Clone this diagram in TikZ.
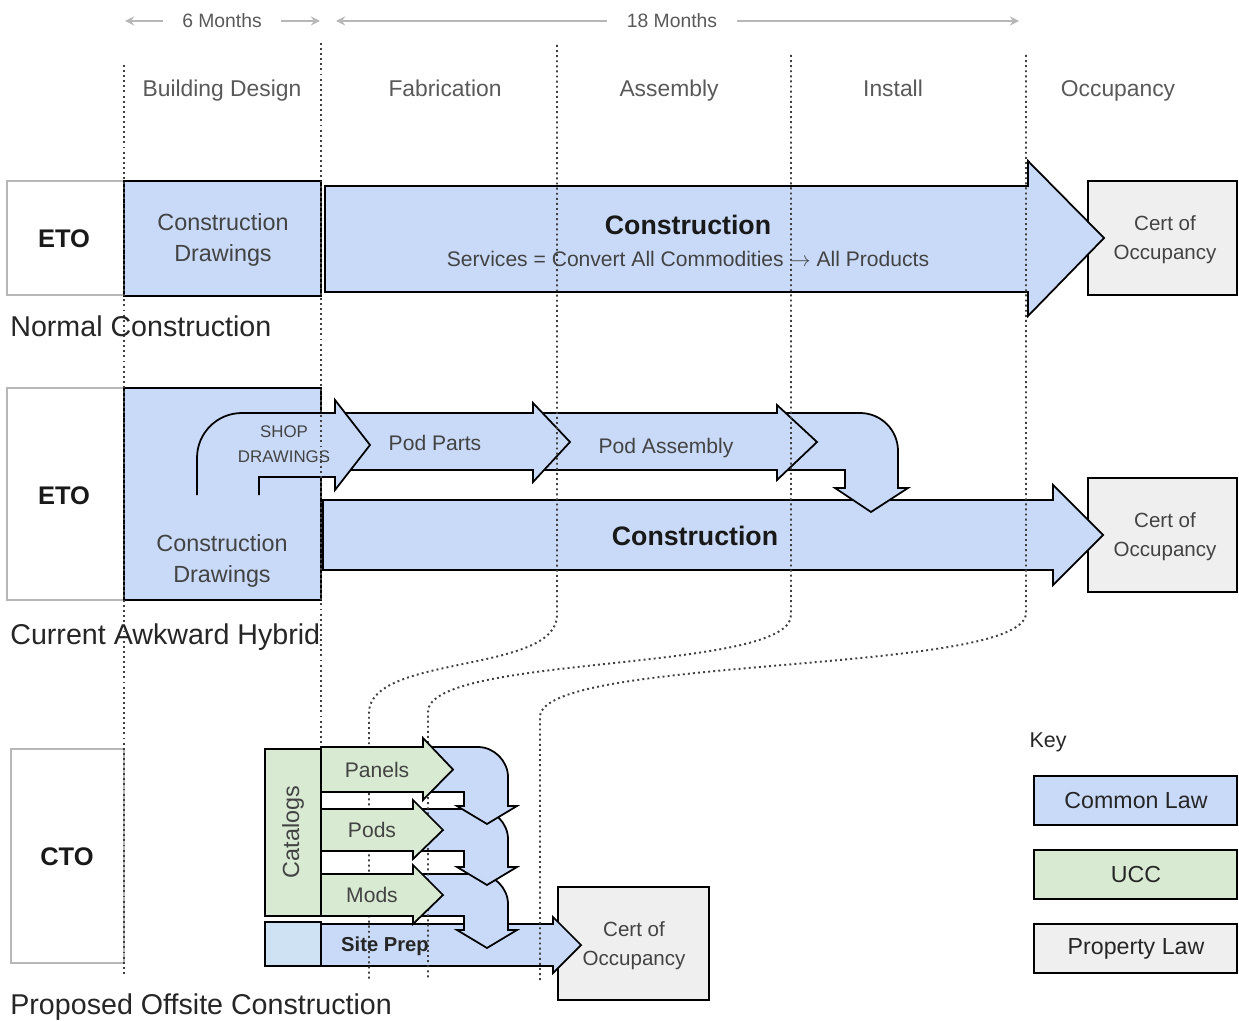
\documentclass[tikz,border=0pt]{standalone}
\usepackage{fontspec}
\setmainfont{Liberation Sans}
\usetikzlibrary{arrows.meta}

\definecolor{lawblue}{HTML}{C9DAF8}
\definecolor{uccgreen}{HTML}{D9EAD3}
\definecolor{propgray}{HTML}{EFEFEF}
\definecolor{prepblue}{HTML}{CFE2F3}
\definecolor{inkgray}{HTML}{434343}
\definecolor{headgray}{HTML}{595959}
\definecolor{spangray}{HTML}{B7B7B7}

\begin{document}
\begin{tikzpicture}[x=0.02cm, y=-0.02cm, >=stealth,
    common/.style={draw=black, line width=1pt, fill=lawblue},
    ucc/.style={draw=black, line width=1pt, fill=uccgreen},
    property/.style={draw=black, line width=1pt, fill=propgray},
    kindbox/.style={draw=spangray, line width=1pt, fill=white},
    phaseline/.style={draw=black!75, line width=1.1pt, dash pattern=on 1.1pt off 1.8pt},
    span/.style={->, draw=spangray, line width=1.3pt},
    spantxt/.style={text=headgray, inner xsep=11pt, font=\fontsize{11}{13}\selectfont},
    phasetxt/.style={anchor=base, text=headgray, font=\fontsize{13}{15}\selectfont},
    rowtxt/.style={anchor=base west, inner sep=0pt, text=black!85, font=\fontsize{16.3}{19}\selectfont},
    tag/.style={text=black!90, font=\bfseries\fontsize{14.5}{17}\selectfont},
    boxtxt/.style={text=inkgray, align=center, font=\fontsize{13.3}{18}\selectfont},
    bigtxt/.style={text=black!90, font=\bfseries\fontsize{15.2}{18}\selectfont},
    flowtxt/.style={text=inkgray, font=\fontsize{12}{14}\selectfont},
    certtxt/.style={text=inkgray, align=center, font=\fontsize{11.7}{16.4}\selectfont},
    shoptxt/.style={text=inkgray, align=center, font=\fontsize{9.6}{14}\selectfont},
    keytxt/.style={text=black!85, font=\fontsize{13.2}{15}\selectfont}]
    \useasboundingbox (0,0) rectangle (1239,1020);

    % time spans
    \node[spantxt] (six) at (222,21) {6 Months};
    \node[spantxt] (eighteen) at (672,21) {18 Months};
    \coordinate (sixL) at (125,21);
    \coordinate (sixR) at (320,21);
    \coordinate (eighteenL) at (336,21);
    \coordinate (eighteenR) at (1019,21);
    \draw[span] (six.west) -- (sixL);
    \draw[span] (six.east) -- (sixR);
    \draw[span] (eighteen.west) -- (eighteenL);
    \draw[span] (eighteen.east) -- (eighteenR);

    % phases
    \node[phasetxt] (design) at (222,97) {Building Design};
    \node[phasetxt] (fab) at (445,97) {Fabrication};
    \node[phasetxt] (assembly) at (669,97) {Assembly};
    \node[phasetxt] (install) at (893,97) {Install};
    \node[phasetxt] (occupancy) at (1118,97) {Occupancy};

    % normal construction
    \draw[kindbox] (7,181) rectangle (124,295);
    \draw[common] (124,181) rectangle (321,296);
    \draw[property] (1088,181) rectangle (1237,295);
    \draw[common] (325,186) -- (1028,186) -- (1028,161) -- (1104,238)
        -- (1028,316) -- (1028,292) -- (325,292) -- cycle;

    % current hybrid
    \draw[kindbox] (7,388) rectangle (124,600);
    \draw[common] (124,388) rectangle (321,600);
    \draw[property] (1088,478) rectangle (1237,592);
    \draw[common] (323,500) -- (1053,500) -- (1053,485) -- (1103,535)
        -- (1053,585) -- (1053,570) -- (323,570) -- cycle;
    \draw[common] (760,413) -- (860,413) .. controls (881,413) and (898,430) .. (898,451)
        -- (898,488) -- (908,488) -- (871,512) -- (835,488) -- (845,488)
        -- (845,470) -- (760,470) -- cycle;
    \draw[common] (540,413) -- (777,413) -- (777,405) -- (817,442)
        -- (777,480) -- (777,470) -- (540,470) -- cycle;
    \draw[common] (330,413) -- (533,413) -- (533,403) -- (570,442)
        -- (533,482) -- (533,470) -- (330,470) -- cycle;
    \fill[lawblue] (197,495) -- (197,458) .. controls (197,433) and (217,413) .. (242,413)
        -- (335,413) -- (335,400) -- (370,445) -- (335,490) -- (335,477)
        -- (259,477) -- (259,495) -- cycle;
    \draw[line width=1pt] (197,495) -- (197,458) .. controls (197,433) and (217,413) .. (242,413)
        -- (335,413) -- (335,400) -- (370,445) -- (335,490) -- (335,477)
        -- (259,477) -- (259,495);

    % offsite construction
    \draw[kindbox] (11,749) rectangle (124,963);
    \draw[property] (558,887) rectangle (709,1000);
    \draw[line width=1pt, fill=prepblue] (265,922) rectangle (321,966);
    \draw[common] (321,924) -- (553,924) -- (553,917) -- (581,945)
        -- (553,973) -- (553,966) -- (321,966) -- cycle;
    \foreach \t/\b/\h in {874/916/930, 809/851/867, 747/792/806}
        \draw[common] (400,\t) -- (478,\t) .. controls (494,\t) and (508,\t+14) .. (508,\t+30)
            -- (508,\h) -- (517,\h) -- (487,\h+18) -- (457,\h) -- (464,\h)
            -- (464,\b) -- (400,\b) -- cycle;

    % phase boundaries
    \draw[phaseline] (124,65) -- (124,975);
    \draw[phaseline] (321,43) -- (321,747);
    \draw[phaseline] (557,45) -- (557,615) .. controls (557,674) and (369,654) .. (369,713) -- (369,980);
    \draw[phaseline] (791,55) -- (791,615) .. controls (791,673) and (428,654) .. (428,712) -- (428,980);
    \draw[phaseline] (1026,55) -- (1026,613) .. controls (1026,675) and (540,655) .. (540,717) -- (540,980);

    % catalog items
    \foreach \t/\b/\hb/\name in {747/792/423/Panels, 809/851/413/Pods, 874/916/413/Mods}{
        \draw[ucc] (321,\t) -- (\hb,\t) -- (\hb,\t-9) -- ({\hb+30},{(\t+\b)/2})
            -- (\hb,\b+8) -- (\hb,\b) -- (321,\b) -- cycle;
        \node[flowtxt] (\name) at ({(321+\hb)/2+5},{(\t+\b)/2}) {\name};
    }
    \draw[ucc] (265,749) rectangle (321,916);

    % labels
    \node[tag] (eto1) at (64,239) {ETO};
    \node[boxtxt] (drawings1) at (223,240) {Construction\\Drawings};
    \node[bigtxt] (build1) at (688,225) {Construction};
    \node[flowtxt] (services) at (688,259) {Services = Convert All Commodities $\rightarrow$ All Products};
    \node[certtxt] (cert1) at (1165,240) {Cert of\\Occupancy};
    \node[rowtxt] (normal) at (10,336) {Normal Construction};

    \node[tag] (eto2) at (64,496) {ETO};
    \node[boxtxt] (drawings2) at (222,561) {Construction\\Drawings};
    \node[shoptxt] (shop) at (284,444) {SHOP\\DRAWINGS};
    \node[flowtxt] (podparts) at (435,443) {Pod Parts};
    \node[flowtxt] (podassembly) at (666,448) {Pod Assembly};
    \node[bigtxt] (build2) at (695,536) {Construction};
    \node[certtxt] (cert2) at (1165,537) {Cert of\\Occupancy};
    \node[rowtxt] (hybrid) at (10,644) {Current Awkward Hybrid};

    \node[tag] (cto) at (67,857) {CTO};
    \node[boxtxt, rotate=90] (catalogs) at (293,832) {Catalogs};
    \node[text=black!85, font=\bfseries\fontsize{11.5}{14}\selectfont] (siteprep) at (385,946) {Site Prep};
    \node[certtxt] (cert3) at (634,946) {Cert of\\Occupancy};
    \node[rowtxt] (offsite) at (10,1014) {Proposed Offsite Construction};

    % key
    \node[keytxt, font=\fontsize{12.2}{14}\selectfont] (key) at (1048,742) {Key};
    \draw[common] (1034,776) rectangle (1237,825);
    \draw[ucc] (1034,850) rectangle (1237,899);
    \draw[property] (1034,924) rectangle (1237,973);
    \node[keytxt] (commonlaw) at (1136,801) {Common Law};
    \node[keytxt] (ucclaw) at (1136,875) {UCC};
    \node[keytxt] (proplaw) at (1136,949) {Property Law};
\end{tikzpicture}
\end{document}
